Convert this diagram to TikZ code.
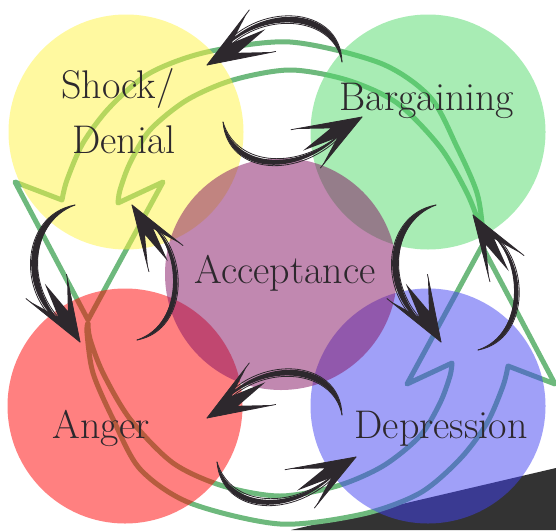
\documentclass[tikz,border=0pt]{standalone}
\usepackage{fontspec}
\usetikzlibrary{calc}
\definecolor{ycol}{RGB}{255,243,65}
\definecolor{gcol}{RGB}{81,217,105}
\definecolor{rcol}{RGB}{255,1,1}
\definecolor{bcol}{RGB}{65,65,241}
\definecolor{pcol}{RGB}{131,17,97}
\definecolor{lcol}{RGB}{110,185,125}
\definecolor{ink}{RGB}{45,40,45}
\definecolor{cornercol}{RGB}{51,51,51}

% feathered brush head: tip, barb 1, barb 2
\newcommand{\bhead}[3]{%
\coordinate (hm) at ($(#2)!0.5!(#3)$);
\coordinate (hm) at ($(#1)!1.1!(hm)$);
\fill[ink] (#1) -- (#2) -- ($(#1)!0.5!($(#2)!0.5!(hm)$)$) -- (hm)
  -- ($(#1)!0.5!($(hm)!0.5!(#3)$)$) -- (#3) -- cycle;
\draw[brushline] (#1) -- ($(#1)!1.06!(#2)$);
\draw[brushline] (#1) -- ($(#1)!1.04!(#3)$);}

% brush arrow, type A (arc over the top, head pointing left-down)
\newcommand{\brushA}[2]{%
\begin{scope}[shift={#1}]
\coordinate (#2t) at (342,62);
\coordinate (#2h) at (207,65);
\coordinate (#2b) at (247,13);
\coordinate (#2c) at (273,52);
\fill[ink] (#2t) .. controls (340,5) and (255,0) .. (215,58) .. controls (256,8) and (332,12) .. (#2t);
\draw[brushline] (#2t) .. controls (340.6,4.4) and (254.6,-0.6) .. (217,54);
\draw[brushline] (#2t) .. controls (333,14) and (258,10) .. (222,54);
\bhead{#2h}{#2b}{#2c}
\end{scope}}
% type B (arc under, head pointing right-up)
\newcommand{\brushB}[2]{%
\begin{scope}[shift={#1}]
\coordinate (#2t) at (223,122);
\coordinate (#2h) at (362,117);
\coordinate (#2b) at (295,129);
\coordinate (#2c) at (322,166);
\fill[ink] (#2t) .. controls (228,175) and (300,180) .. (345,130) .. controls (300,172) and (236,170) .. (#2t);
\draw[brushline] (#2t) .. controls (227.6,175.6) and (300.4,180.6) .. (344,133);
\draw[brushline] (#2t) .. controls (237,168) and (300,170) .. (343,132);
\bhead{#2h}{#2b}{#2c}
\end{scope}}
% type C (bulging left, head pointing right-down)
\newcommand{\brushC}[2]{%
\begin{scope}[shift={#1}]
\coordinate (#2t) at (75,205);
\coordinate (#2h) at (80,342);
\coordinate (#2b) at (29,301);
\coordinate (#2c) at (67,277);
\fill[ink] (#2t) .. controls (20,215) and (15,300) .. (70,330) .. controls (24,295) and (28,222) .. (#2t);
\draw[brushline] (#2t) .. controls (19.4,214.8) and (14.4,300.4) .. (68,330);
\draw[brushline] (#2t) .. controls (27,223) and (25,294) .. (70,328);
\bhead{#2h}{#2b}{#2c}
\end{scope}}
% type D (bulging right, head pointing left-up)
\newcommand{\brushD}[2]{%
\begin{scope}[shift={#1}]
\coordinate (#2t) at (137,340);
\coordinate (#2h) at (132,205);
\coordinate (#2b) at (148,268);
\coordinate (#2c) at (181,244);
\fill[ink] (#2t) .. controls (190,330) and (190,245) .. (143,218) .. controls (184,245) and (184,325) .. (#2t);
\draw[brushline] (#2t) .. controls (190.6,330.2) and (190.6,244.8) .. (145,219);
\draw[brushline] (#2t) .. controls (185,324) and (185,246) .. (144,219);
\bhead{#2h}{#2b}{#2c}
\end{scope}}

\begin{document}
\begin{tikzpicture}[x=1pt,y=-1pt,
  stage/.style={circle, minimum size=235pt, inner sep=0pt, fill opacity=0.5},
  lbl/.style={anchor=base, text=ink, font=\fontsize{40}{46}\selectfont, inner sep=0pt},
  cycleline/.style={draw=lcol, line width=5pt, line join=round, line cap=round},
  brushline/.style={draw=ink, line width=0.8pt, line cap=round}]
\useasboundingbox (0,0) rectangle (556,530);
\clip (0,0) rectangle (556,530);

% dark corner
\fill[cornercol] (291,530) -- (556,468) -- (556,530) -- cycle;

% green cycle arrows
\newcommand{\cyclearrow}{%
\draw[cycleline] (88,320) -- (15,182) -- (62,200)
  -- plot[smooth] coordinates {(62,200) (67,180) (83,143) (110,107) (150,73) (207,52) (290,42) (380,63) (430,97) (457,147) (477,193) (483,233) (482,243)}
  -- plot[smooth] coordinates {(482,243) (480,227) (467,193) (440,147) (397,103) (347,80) (290,70) (233,80) (187,100) (150,130) (130,163) (120,190) (118,203)}
  -- (163,182) -- cycle;}
\cyclearrow
\begin{scope}[rotate around={180:(285,283)}]
\cyclearrow
\end{scope}

% stage circles
\node[stage, fill=ycol] (shock) at (126,132) {};
\node[stage, fill=gcol] (barg) at (428,132) {};
\node[stage, fill=rcol] (anger) at (125,406) {};
\node[stage, fill=bcol] (depr) at (428,406) {};
\node[stage, fill=pcol, minimum size=232pt] (acc) at (281,274) {};

% labels
\node[lbl] (tshock) at (118,98) {Shock/};
\node[lbl] (tdenial) at (124,153) {Denial};
\node[lbl] (tbarg) at (427,110) {Bargaining};
\node[lbl] (tacc) at (285,283) {Acceptance};
\node[lbl] (tanger) at (101,438) {Anger};
\node[lbl] (tdepr) at (441,438) {Depression};

% brush arrows
\brushA{(0,0)}{p1}
\brushA{(0,353)}{p5}
\brushB{(0,0)}{p2}
\brushB{(-6,340)}{p6}
\brushC{(0,0)}{p7}
\brushC{(361,0)}{p3}
\brushD{(0,0)}{p8}
\brushD{(341,10)}{p4}
\end{tikzpicture}
\end{document}
